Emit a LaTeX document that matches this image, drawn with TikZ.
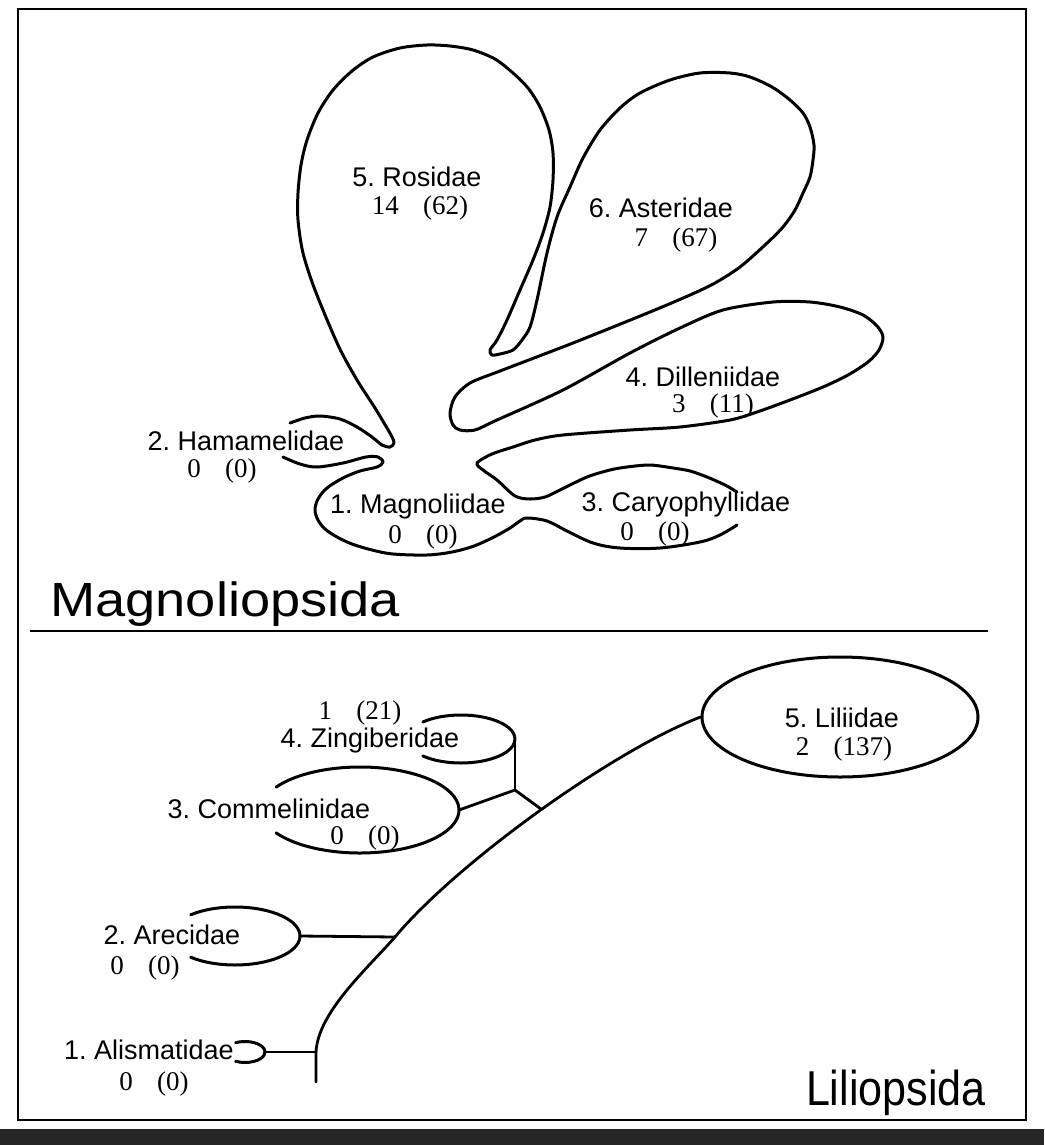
\documentclass[tikz,border=0pt]{standalone}
\usepackage{fontspec}
\usetikzlibrary{shapes.geometric}
\setmainfont{Liberation Sans}
\newfontfamily\numfont{Liberation Serif}
\newcommand\numgap{\hspace{0.9em}}
\tikzset{
  outl/.style={line width=3pt, line join=round, line cap=round},
  conn/.style={line width=2.8pt, line cap=round},
  lab/.style={font=\fontsize{27}{29}\selectfont, inner sep=0pt},
  num/.style={font=\numfont\fontsize{27}{29}\selectfont, inner sep=0pt},
  big/.style={font=\fontsize{48}{52}\selectfont, inner sep=0pt},
}
\begin{document}
\frenchspacing
\begin{tikzpicture}[x=1pt,y=-1pt]
\useasboundingbox (0,0) rectangle (1044,1145);
\fill[white] (0,0) rectangle (1044,1145);
% frame and bottom band
\draw[line width=2.8pt] (18,9) rectangle (1026,1120);
\fill[black!85] (0,1129) rectangle (1044,1145);
\draw[line width=2.2pt] (30,631) -- (988,631);

% ---------- Magnoliopsida outline ----------
\draw[outl] plot[smooth, tension=0.55] coordinates {
 (283,457) (300,464) (317,467) (343,463) (366,457) (378,457) (383,462) (377,467)
 (360,471) (343,478) (327,488) (318,499) (315,510) (318,520) (325,529) (337,537)
 (352,544) (372,550) (393,554) (427,555) (452,552) (474,546) (494,537) (510,528)
 (520,521) (527,518) (547,521) (567,531) (593,543) (620,548) (660,548) (700,542)
 (720,535) (737,525)};
\draw[outl] plot[smooth, tension=0.5] coordinates {
 (290,423) (305,418) (320,416) (340,419) (357,427) (372,437) (382,445) (390,447)
 (394,443) (391,435) (375,408) (357,380) (338,345) (315,290) (303,253) (298,220)
 (298,193) (301,165) (307,140) (318,113) (333,90) (352,71) (373,57) (400,48)
 (427,45) (450,46) (473,50) (495,59) (513,73) (528,88) (540,107) (549,130)
 (553,153) (553,180) (550,207) (543,233) (533,260) (520,290) (507,320) (497,340)
 (490,350) (492,355) (500,354) (513,350) (522,340) (530,327) (537,300) (547,253)
 (557,217) (570,187) (583,158) (600,130) (620,108) (640,93) (670,80) (700,73)
 (730,73) (750,77) (772,87) (790,100) (803,113) (810,127) (814,145) (813,160)
 (810,177) (803,193) (795,210) (783,227) (765,245) (740,267) (715,283) (690,295)
 (650,312) (573,343) (500,371) (470,383) (455,397) (450,413) (453,425) (460,430)
 (475,430) (497,420) (563,390) (630,353) (680,328) (723,310) (773,302) (810,302)
 (840,307) (863,315) (877,326) (883,337) (879,350) (868,362) (848,375) (823,387)
 (790,400) (757,412) (730,420) (680,427) (630,430) (563,435) (535,440) (513,447)
 (492,454) (477,463) (483,470) (497,480) (515,496) (530,499) (545,497) (560,490)
 (587,477) (610,470) (627,467) (650,465) (673,468) (690,471) (707,477) (725,485)
 (737,492)};

% Magnoliopsida labels
\node[lab] (rosA) at (417,177) {5. Rosidae};
\node[num] (rosB) at (420,208) {14\numgap(62)};
\node[lab] (astA) at (661,208) {6. Asteridae};
\node[num] (astB) at (676,240) {7\numgap(67)};
\node[lab] (dilA) at (703,377) {4. Dilleniidae};
\node[num] (dilB) at (713,406) {3\numgap(11)};
\node[lab] (hamA) at (246,441) {2. Hamamelidae};
\node[num] (hamB) at (222,471) {0\numgap(0)};
\node[lab] (magA) at (418,507) {1. Magnoliidae};
\node[num] (magB) at (423,537) {0\numgap(0)};
\node[lab] (carA) at (686,505) {3. Caryophyllidae};
\node[num] (carB) at (655,534) {0\numgap(0)};
\node[big, anchor=west] (magnol) at (50,604) {\scalebox{1.13}[1]{Magnoliopsida}};

% ---------- Liliopsida ----------
\coordinate (jA) at (316,1052);
\coordinate (jB) at (395,937);
\coordinate (jD) at (515,790);
\coordinate (base) at (316,1082);
\node[draw, outl, ellipse, minimum width=276pt, minimum height=120pt, inner sep=0pt] (lil) at (840,717) {};
\draw[conn] (base) -- (jA) .. controls (318,1012) and (368,968) .. (jB)
  .. controls (455,865) and (610,752) .. (lil.west) coordinate[pos=0.515] (jC);

% subclass arcs
\draw[outl] (235,936) ++(-133:65 and 29) arc[start angle=-133, end angle=133, x radius=65, y radius=29];
\coordinate (areE) at (300,936);
\draw[outl] (245,1052) ++(-118:20 and 10.5) arc[start angle=-118, end angle=118, x radius=20, y radius=10.5];
\coordinate (aliE) at (265,1052);
\draw[outl] (360,810) ++(-148:99 and 43) arc[start angle=-148, end angle=148, x radius=99, y radius=43];
\coordinate (comE) at (459,810);
\draw[outl] (461,739) ++(-135:54 and 24) arc[start angle=-135, end angle=135, x radius=54, y radius=24];
\coordinate (zinE) at (515,739);

% connectors
\draw[conn] (aliE) -- (jA);
\draw[conn] (areE) -- (jB);
\draw[conn] (comE) -- (jD);
\draw[conn] (zinE) -- (jD);
\draw[conn] (jD) -- (jC);

% Liliopsida labels
\node[num] (zinB) at (360,713) {1\numgap(21)};
\node[lab] (zinA) at (370,741) {4. Zingiberidae};
\node[lab] (comA) at (269,809) {3. Commelinidae};
\node[num] (comB) at (365,838) {0\numgap(0)};
\node[lab] (lilA) at (842,718) {5. Liliidae};
\node[num] (lilB) at (844,749) {2\numgap(137)};
\node[lab] (areA) at (172,935) {2. Arecidae};
\node[num] (areB) at (145,968) {0\numgap(0)};
\node[lab] (aliA) at (149,1050) {1. Alismatidae};
\node[num] (aliB) at (154,1084) {0\numgap(0)};
\node[font=\fontsize{49}{52}\selectfont, inner sep=0pt, anchor=east] (lilio) at (986,1093) {\scalebox{0.88}[1]{Liliopsida}};
\end{tikzpicture}
\end{document}
